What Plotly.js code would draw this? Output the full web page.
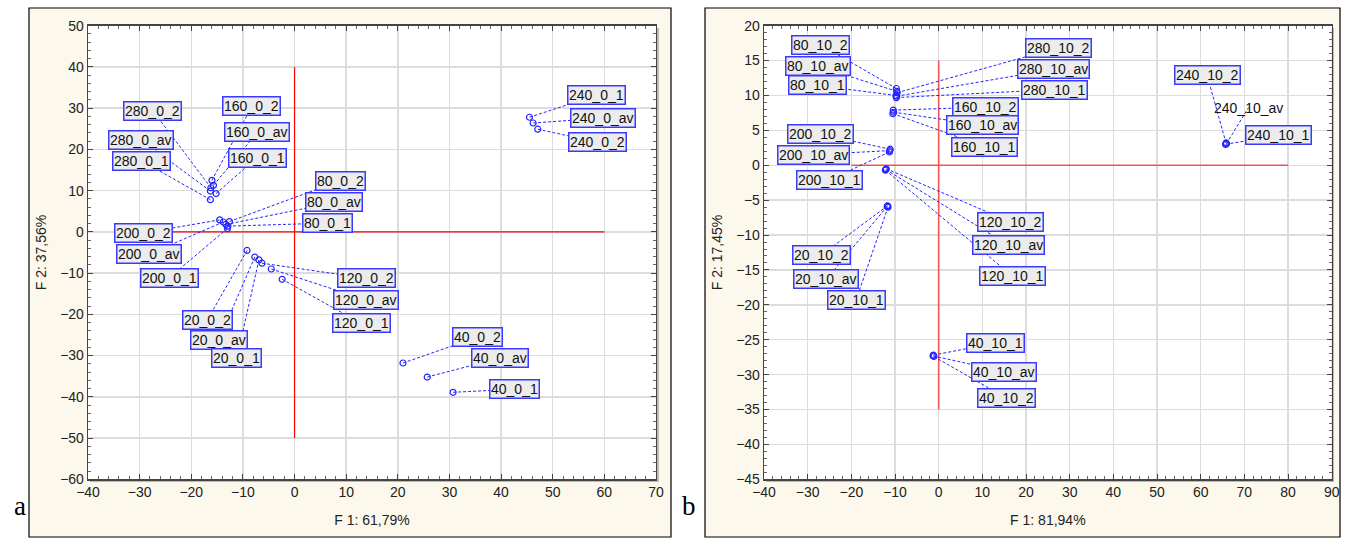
<!DOCTYPE html>
<html><head><meta charset="utf-8">
<script src="https://cdn.plot.ly/plotly-3.0.1.min.js"></script>
<style>html,body{margin:0;padding:0;background:#fff}#c{width:1346px;height:539px}</style>
</head><body><div id="c"></div>
<script>
// ---- data: panel a ----
const labelsA = ["160_0_2","160_0_av","160_0_1","280_0_2","280_0_av","280_0_1",
  "200_0_2","200_0_av","200_0_1","80_0_2","80_0_av","80_0_1",
  "20_0_2","20_0_av","20_0_1","120_0_2","120_0_av","120_0_1",
  "40_0_2","40_0_av","40_0_1","240_0_1","240_0_av","240_0_2"];
const f1A = [-16.0,-15.7,-15.2,-16.2,-16.3,-16.3,
  -14.5,-13.8,-13.0,-12.6,-13.3,-12.9,
  -9.2,-7.7,-6.9,-6.3,-4.5,-2.4,
  21.0,25.7,30.7,45.5,46.2,47.1];
const f2A = [12.5,11.3,9.3,10.7,9.9,7.8,
  2.9,2.4,0.8,2.5,1.8,1.4,
  -4.5,-6.1,-6.8,-7.6,-9.0,-11.5,
  -31.8,-35.2,-38.9,27.8,26.4,24.9];
// ---- data: panel b ----
const labelsB = ["80_10_2","80_10_av","80_10_1","280_10_2","280_10_av","280_10_1",
  "160_10_2","160_10_av","160_10_1","200_10_2","200_10_av","200_10_1",
  "120_10_2","120_10_av","120_10_1","20_10_2","20_10_av","20_10_1",
  "40_10_1","40_10_av","40_10_2","240_10_2","240_10_av","240_10_1"];
const f1B = [-9.7,-9.6,-9.8,-9.5,-9.6,-9.7,
  -10.4,-10.3,-10.5,-11.1,-11.2,-11.3,
  -12.0,-12.1,-12.2,-11.7,-11.8,-11.6,
  -1.2,-1.3,-1.1,65.8,65.9,65.7];
const f2B = [11.0,10.6,10.0,10.4,9.9,9.7,
  7.9,7.6,7.4,2.3,2.1,1.9,
  -0.5,-0.6,-0.7,-5.8,-5.9,-6.0,
  -27.2,-27.3,-27.4,3.2,3.1,3.0];
const titleXA = "F 1: 61,79%", titleYA = "F 2: 37,56%";
const titleXB = "F 1: 81,94%", titleYB = "F 2: 17,45%";

// ---- layout-only: label offsets in pixels (dx, dy down) ----
const offA = [[40,-74],[44,-53],[41,-36],[-58,-77],[-69,-51],[-69,-39],
  [-76,13],[-74,32],[-58,49],[111,-41],[108,-22],[100,-3],
  [-40,70],[-36,83],[-22,98],[104,15],[95,31],[79,44],
  [75,-26],[73,-19],[61,-3],[67,-22],[70,-5],[60,13]];
const offB = [[-76,-44],[-79,-25],[-78,-10],[161,-45],[157,-27],[158,-8],
  [92,-3],[89,13],[92,33],[-70,-15],[-76,4],[-60,28],
  [124,53],[123,76],[127,106],[-66,49],[-61,73],[-32,93],
  [62,-12],[71,16],[73,42],[-19,-68],[22,-36],[53,-9]];
const noBox = {"240_10_av": true};

const BLUE = "#2424ff";
const FONT = "Liberation Sans, Arial, sans-serif";

function traceFor(xs, ys, xa, ya) {
  return {x: xs, y: ys, xaxis: xa, yaxis: ya, type: "scatter", mode: "markers",
    marker: {symbol: "circle-open", size: 6, color: BLUE, line: {width: 1.2, color: BLUE}},
    hoverinfo: "skip", showlegend: false};
}
const shapes = [];
const annotations = [];
function addLabels(labels, xs, ys, offs, xr, yr) {
  labels.forEach((t, i) => {
    const [dx, dy] = offs[i];
    shapes.push({type: "line", xref: xr, yref: yr,
      xsizemode: "pixel", ysizemode: "pixel", xanchor: xs[i], yanchor: ys[i],
      x0: 0, y0: 0, x1: dx, y1: -dy,
      line: {color: BLUE, width: 1, dash: "3px,2px"}, layer: "above"});
    const nb = noBox[t];
    annotations.push({xref: xr, yref: yr, x: xs[i], y: ys[i], ax: dx, ay: dy,
      showarrow: true, arrowcolor: "rgba(0,0,0,0)", arrowwidth: 0.1,
      text: t, font: {family: FONT, size: 14, color: "#111"},
      bgcolor: nb ? "rgba(0,0,0,0)" : "#ececec",
      bordercolor: nb ? "rgba(0,0,0,0)" : "#3a3aff", borderwidth: 1.5, borderpad: 0.5});
  });
}
addLabels(labelsA, f1A, f2A, offA, "x", "y");
addLabels(labelsB, f1B, f2B, offB, "x2", "y2");

// frames (paper)
const W = 1346, H = 539;
function rectPx(x0, x1, y0, y1, fill, lc, lw) {
  return {type: "rect", xref: "paper", yref: "paper",
    x0: x0 / W, x1: x1 / W, y0: 1 - y1 / H, y1: 1 - y0 / H,
    fillcolor: fill, line: {color: lc, width: lw}, layer: "below"};
}
shapes.unshift(
  rectPx(29, 671, 8, 537, "#fdf8ec", "#000", 1.2),
  rectPx(705, 1340, 8, 537, "#fdf8ec", "#000", 1.2),
  rectPx(90, 659, 28, 482, "#bdb8b0", "rgba(0,0,0,0)", 0),
  rectPx(766, 1334, 28, 482, "#bdb8b0", "rgba(0,0,0,0)", 0),
  rectPx(88, 656, 25.7, 479.3, "#ffffff", "rgba(0,0,0,0)", 0),
  rectPx(764, 1331.7, 25.7, 479.3, "#ffffff", "rgba(0,0,0,0)", 0)
);

// red reference lines
const refA = {h: [-25, 60], v: [-50, 40]};
const refB = {h: [-20, 80], v: [-35, 15]};
shapes.push({type: "line", xref: "x", yref: "y", x0: refA.h[0], x1: refA.h[1], y0: 0, y1: 0, line: {color: "#ff0000", width: 1.2}, layer: "between"});
shapes.push({type: "line", xref: "x", yref: "y", x0: 0, x1: 0, y0: refA.v[0], y1: refA.v[1], line: {color: "#ff0000", width: 1.2}, layer: "between"});
shapes.push({type: "line", xref: "x2", yref: "y2", x0: refB.h[0], x1: refB.h[1], y0: 0, y1: 0, line: {color: "#f35555", width: 1.6}, layer: "between"});
shapes.push({type: "line", xref: "x2", yref: "y2", x0: 0, x1: 0, y0: refB.v[0], y1: refB.v[1], line: {color: "#f35555", width: 1.6}, layer: "between"});

annotations.push({xref: "paper", yref: "paper", x: 12 / W, y: 1 - 523 / H, text: "a", showarrow: false,
  font: {family: "Liberation Serif, Times New Roman, serif", size: 27, color: "#000"}});
annotations.push({xref: "paper", yref: "paper", x: 689 / W, y: 1 - 523 / H, text: "b", showarrow: false,
  font: {family: "Liberation Serif, Times New Roman, serif", size: 27, color: "#000"}});

function axis(domain, range, dtick, title, anchor, mdt) {
  return {domain: domain, range: range, dtick: dtick, tick0: 0, anchor: anchor,
    showgrid: true, gridcolor: "#dcdcdc", gridwidth: 1.5, zeroline: false,
    showline: true, linecolor: "#444", linewidth: 1.3, mirror: "allticks",
    ticks: "inside", ticklen: 5, tickcolor: "#444",
    minor: {dtick: mdt, ticks: "inside", ticklen: 3, tickcolor: "#666", showgrid: false},
    tickfont: {family: FONT, size: 14, color: "#222"},
    title: {text: title, font: {family: FONT, size: 14, color: "#222"}},
    fixedrange: true};
}
const yDom = [(H - 479.3) / H, (H - 25.7) / H];
const layout = {
  width: W, height: H, margin: {l: 0, r: 0, t: 0, b: 0},
  paper_bgcolor: "#ffffff", plot_bgcolor: "rgba(0,0,0,0)",
  xaxis: axis([88 / W, 656 / W], [-40, 70], 10, titleXA, "y", 2),
  yaxis: axis(yDom, [-60, 50], 10, titleYA, "x", 2),
  xaxis2: axis([764 / W, 1331.7 / W], [-40, 90], 10, titleXB, "y2", 2),
  yaxis2: axis(yDom, [-45, 20], 5, titleYB, "x2", 1),
  shapes: shapes, annotations: annotations
};
layout.xaxis.title.standoff = 15; layout.xaxis2.title.standoff = 15;
layout.yaxis.title.standoff = 10; layout.yaxis2.title.standoff = 10;
Plotly.newPlot("c", [traceFor(f1A, f2A, "x", "y"), traceFor(f1B, f2B, "x2", "y2")], layout,
  {displayModeBar: false, staticPlot: true});
</script></body></html>
